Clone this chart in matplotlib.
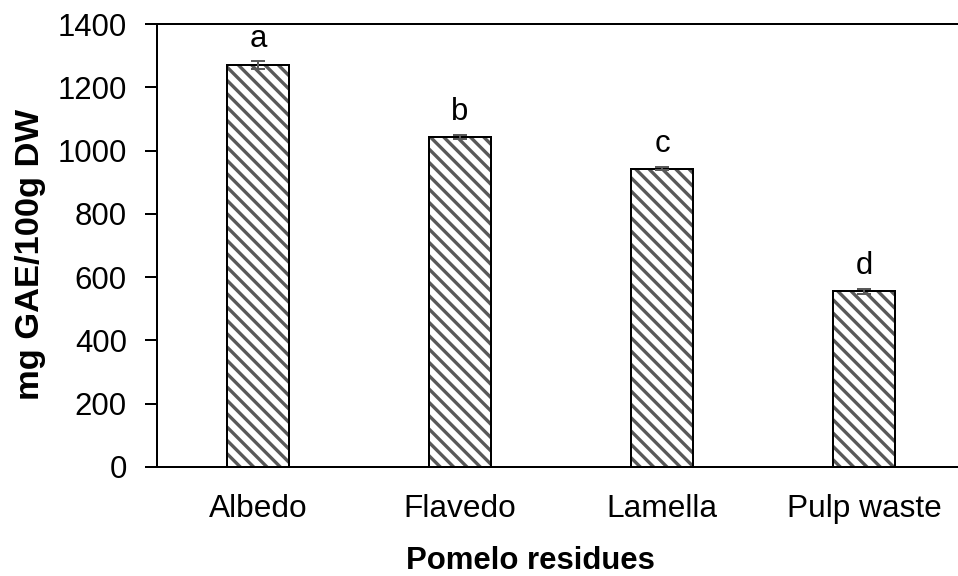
import matplotlib.pyplot as plt
import numpy as np

plt.rcParams['font.family'] = ['Liberation Sans', 'DejaVu Sans']
plt.rcParams['hatch.linewidth'] = 3.0

residues = ['Albedo', 'Flavedo', 'Lamella', 'Pulp waste']
tpc = [1270, 1043, 943, 555]
tpc_err = [12, 6, 5, 8]
letters = ['a', 'b', 'c', 'd']

fig = plt.figure(figsize=(958 / 80, 576 / 80), dpi=80)
ax = fig.add_axes([157 / 958, 109 / 576, 808 / 958, 443 / 576])

x = np.arange(len(residues))
# gray stripes first, then the black outline on top
ax.bar(x, tpc, width=0.31, color='white', edgecolor='#595959', linewidth=0,
       hatch='\\\\', zorder=2)
ax.bar(x, tpc, width=0.31, fill=False, edgecolor='black', linewidth=1.8, zorder=2.5)
ax.errorbar(x, tpc, yerr=tpc_err, fmt='none', ecolor='#595959', elinewidth=1.8,
            capsize=6, capthick=1.8, zorder=3)
for xi, v, e, s in zip(x, tpc, tpc_err, letters):
    ax.annotate(s, (xi, v + e), xytext=(0, 7), textcoords='offset points',
                ha='center', va='bottom', fontsize=28)

ax.set_xlim(-0.5, 3.5)
ax.set_ylim(0, 1400)
ax.set_yticks(np.arange(0, 1401, 200))
ax.set_xticks(x)
ax.set_xticklabels(residues)
ax.tick_params(axis='x', length=0, pad=24, labelsize=28.5)
ax.tick_params(axis='y', length=11, width=1.8, pad=16, labelsize=28)
for sp in ax.spines.values():
    sp.set_linewidth(1.8)
ax.spines['right'].set_visible(False)

ax.set_xlabel('Pomelo residues', fontsize=28, fontweight='bold', labelpad=20)
ax.xaxis.label.set_x(0.4616)
ax.set_ylabel('mg GAE/100g DW', fontsize=31, fontweight='bold')
ax.yaxis.set_label_coords(-0.156, 0.479)
ax.yaxis.label.set_va('center')

fig.savefig('out.png', dpi=80)
